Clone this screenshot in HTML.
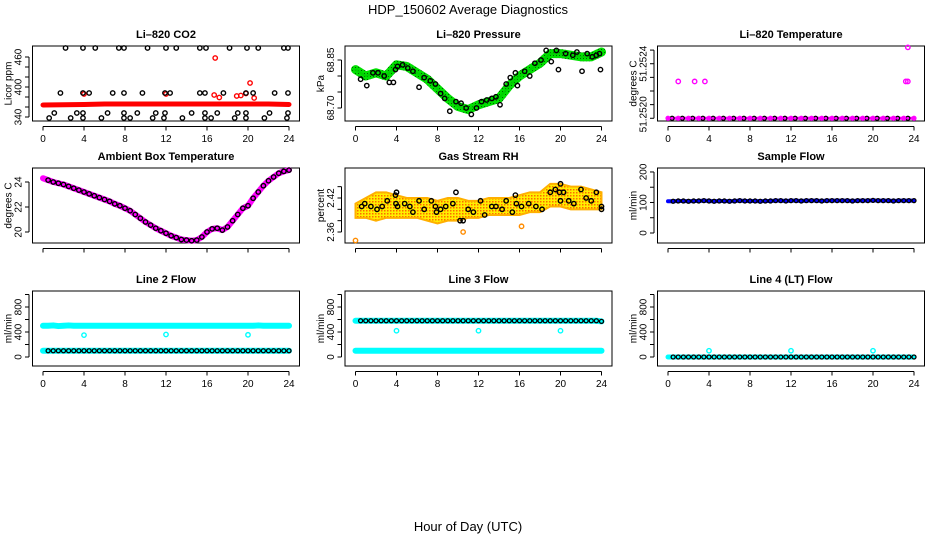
<!DOCTYPE html>
<html><head><meta charset="utf-8"><style>
html,body{margin:0;padding:0;background:#fff}
svg{display:block;font-family:"Liberation Sans",Helvetica,sans-serif}
</style></head><body>
<svg id="chart" width="936" height="540" viewBox="0 0 936 540" xmlns="http://www.w3.org/2000/svg">
<defs>
<pattern id="rhpat" width="3" height="3" patternUnits="userSpaceOnUse"><rect width="3" height="3" fill="#ffee00"/><rect x="0" y="0" width="1.5" height="1.5" fill="#ff6a00"/></pattern>
<pattern id="grpat" width="3" height="3" patternUnits="userSpaceOnUse"><rect width="3" height="3" fill="#00e000"/><rect x="1" y="1" width="1" height="1" fill="#006000"/></pattern>
</defs>
<text x="468" y="14" text-anchor="middle" font-size="13">HDP_150602  Average Diagnostics</text>
<text x="468" y="531" text-anchor="middle" font-size="13">Hour of Day (UTC)</text>
</svg>
<script>
// ---------- data ----------
const xTicks=[0,4,8,12,16,20,24];
// CO2
const co2RedH=[0,2,4,6,8,10,12,14,16,18,20,22,24];
const co2RedV=[364,364.5,365,366,366,366,366,366,366,366,366,366,365];
const co2RedOutH=[16.8,20.2,16.7,4.0,12.0,17.2,19.8,19.3,20.6,18.9];
const co2RedOutV=[458,408,384,386,386,379,387,383,378,382];
const co2BlackH=[2.2,3.9,5.1,7.4,7.9,10.2,12.0,13.0,15.3,15.9,18.2,19.9,21.0,23.5,23.9,
1.7,3.9,4.5,6.8,7.9,9.7,11.9,12.4,15.3,15.8,17.6,19.8,20.5,22.6,23.9,
1.1,3.3,3.9,6.3,7.9,9.2,11.0,11.9,14.5,15.8,17.0,19.0,19.8,22.1,23.9,
0.6,2.7,3.9,5.7,7.9,8.5,10.7,11.8,13.6,15.8,16.4,18.7,19.8,21.6,23.8];
const co2BlackV=[478,478,478,478,478,478,478,478,478,478,478,478,478,478,478,
388,388,388,388,388,388,388,388,388,388,388,388,388,388,388,
348,348,348,348,348,348,348,348,348,348,348,348,348,348,348,
338,338,338,338,338,338,338,338,338,338,338,338,338,338,338];
// Pressure
const presBandH=[0,1,2,3,4,5,6,7,8,9,10,11,12,13,14,15,16,17,18,19,20,21,22,23,24];
const presBandV=[68.82,68.80,68.81,68.80,68.835,68.83,68.81,68.79,68.76,68.73,68.705,68.695,68.71,68.72,68.73,68.77,68.80,68.82,68.84,68.87,68.87,68.865,68.86,68.86,68.875];
const presPtH=[0.5,1.1,1.7,2.2,2.8,3.3,3.7,3.9,4.1,4.6,5.1,5.6,6.2,6.7,7.3,7.8,8.3,8.7,9.2,9.8,10.3,10.8,11.3,11.8,12.3,12.8,13.3,13.7,14.1,14.7,15.1,15.6,15.8,16.5,17,17.5,18.1,18.6,19.1,19.6,19.8,20.5,21.2,21.6,22.1,22.6,23.1,23.5,23.8,23.9];
const presPtV=[68.79,68.77,68.81,68.81,68.80,68.78,68.78,68.82,68.83,68.835,68.825,68.815,68.765,68.795,68.785,68.775,68.745,68.73,68.69,68.72,68.715,68.70,68.68,68.70,68.72,68.725,68.73,68.735,68.71,68.775,68.795,68.81,68.77,68.815,68.80,68.84,68.85,68.88,68.845,68.88,68.82,68.87,68.865,68.875,68.815,68.87,68.86,68.865,68.87,68.82];
// Li-820 temperature
const ltH=[0,1,2,3,4,5,6,7,8,9,10,11,12,13,14,15,16,17,18,19,20,21,22,23,24];
const ltV=[51.2520,51.2520,51.2520,51.2520,51.2520,51.2520,51.2520,51.2520,51.2520,51.2520,51.2520,51.2520,51.2520,51.2520,51.2520,51.2520,51.2520,51.2520,51.2520,51.2520,51.2520,51.2520,51.2520,51.2520,51.2520];
const ltOutH=[1.0,2.6,3.6,23.2,23.4,23.4];
const ltOutV=[51.25227,51.25227,51.25227,51.25227,51.25227,51.25252];
// Ambient box temperature (every 0.5 h)
const ambStep=0.5;
const ambV=[24.3,24.15,24.0,23.9,23.8,23.65,23.5,23.35,23.2,23.05,22.9,22.75,22.6,22.45,22.25,22.1,21.9,21.7,21.4,21.1,20.8,20.55,20.3,20.1,19.9,19.7,19.55,19.4,19.35,19.3,19.35,19.6,20.0,20.25,20.3,20.15,20.4,20.9,21.4,21.9,22.1,22.7,23.2,23.7,24.1,24.4,24.7,24.85,24.95];
// Gas stream RH
const rhBandH=[0,1,2,3,4,5,6,7,8,9,10,11,12,13,14,15,16,17,18,19,20,21,22,23,24];
const rhUpper=[2.41,2.42,2.43,2.43,2.425,2.42,2.42,2.42,2.415,2.42,2.42,2.415,2.415,2.42,2.42,2.42,2.425,2.43,2.43,2.445,2.445,2.44,2.44,2.435,2.43];
const rhLower=[2.385,2.385,2.38,2.385,2.385,2.385,2.385,2.38,2.375,2.38,2.38,2.385,2.385,2.39,2.39,2.39,2.39,2.395,2.395,2.405,2.405,2.4,2.4,2.4,2.4];
const rhPtH=[0.6,0.9,1.5,2.1,2.6,3.1,3.9,4.0,3.95,4.1,4.8,5.3,5.6,6.2,6.7,7.4,7.8,7.9,8.3,8.8,9.5,9.8,10.2,10.5,11,11.5,12.2,12.6,13.3,13.7,14.3,14.7,15.3,15.6,15.7,16.2,16.9,17.6,18.2,19.0,19.5,20,19.9,20.0,20.3,20.8,21.3,22,22.5,23,23.5,24,24];
const rhPtV=[2.405,2.41,2.405,2.40,2.405,2.415,2.425,2.43,2.41,2.405,2.41,2.405,2.395,2.415,2.40,2.415,2.405,2.395,2.40,2.405,2.41,2.43,2.38,2.38,2.40,2.395,2.415,2.39,2.405,2.405,2.40,2.415,2.395,2.425,2.41,2.405,2.41,2.405,2.40,2.43,2.435,2.445,2.43,2.415,2.43,2.415,2.41,2.435,2.42,2.415,2.43,2.405,2.40];
const rhOutH=[0,10.5,16.2];
const rhOutV=[2.345,2.36,2.37];
// Flows (every 0.5 h)
const flowStep=0.5;
const sampleV=[104,104,105,105,104,105,105,106,105,104,105,105,104,105,106,105,105,105,104,105,105,106,106,105,106,106,105,106,106,106,105,106,106,106,106,106,105,106,106,106,107,106,106,106,105,106,106,106,106];
const l2Upper=[500,500,505,495,500,505,500,500,500,500,500,500,500,500,500,500,500,500,500,500,500,500,500,500,500,500,500,500,500,500,500,500,500,500,500,500,500,500,500,500,500,500,505,500,500,500,500,500,500];
const l2Lower=[100,100,100,100,100,100,100,100,100,100,100,100,100,100,100,100,100,100,100,100,100,100,100,100,100,100,100,100,100,100,100,100,100,100,100,100,100,100,100,100,100,100,100,100,100,100,100,100,100];
const l2OutH=[4,12,20];
const l2OutV=[350,360,355];
const l3Upper=[580,580,580,580,580,580,580,580,580,580,580,580,580,580,580,580,580,580,580,580,580,580,580,580,580,580,580,580,580,580,580,580,580,580,580,580,580,580,580,580,580,580,580,580,580,580,580,580,570];
const l3Lower=[100,100,100,100,100,100,100,100,100,100,100,100,100,100,100,100,100,100,100,100,100,100,100,100,100,100,100,100,100,100,100,100,100,100,100,100,100,100,100,100,100,100,100,100,100,100,100,100,100];
const l3OutH=[4,12,20];
const l3OutV=[420,420,420];
const l4V=[0,0,0,0,0,0,0,0,0,0,0,0,0,0,0,0,0,0,0,0,0,0,0,0,0,0,0,0,0,0,0,0,0,0,0,0,0,0,0,0,0,0,0,0,0,0,0,0,0];
const l4OutH=[4,12,20];
const l4OutV=[100,100,100];

// ---------- drawing ----------
const NS="http://www.w3.org/2000/svg";
const svg=document.getElementById('chart');
function mk(tag,attrs,parent){const e=document.createElementNS(NS,tag);for(const k in attrs)e.setAttribute(k,attrs[k]);(parent||svg).appendChild(e);return e;}

function makePanel(L,T,ymin,ymax,title,ylab,yticks,showXLabels,name){
  const H=75,W=267;
  const g=mk('g',{});
  
  
  const x=h=>L+10.5+h*10.25;
  const y=v=>T+(ymax-v)/(ymax-ymin)*H;
  const box=mk('rect',{x:L,y:T,width:W,height:H,fill:'none',stroke:'#000','stroke-width':1},g);
  
  
  const t=mk('text',{x:L+W/2,y:T-8,'text-anchor':'middle','font-size':11,'font-weight':'bold'},g);
  t.textContent=title;
  
  
  const ax=mk('g',{stroke:'#000','stroke-width':1},g);
  
  
  mk('line',{x1:x(0),x2:x(24),y1:T+H+5.5,y2:T+H+5.5},ax);
  xTicks.forEach(h=>{
    mk('line',{x1:x(h),x2:x(h),y1:T+H+5.5,y2:T+H+9.5},ax);
    if(showXLabels){
      const tl=mk('text',{x:x(h),y:T+H+21,'text-anchor':'middle','font-size':10,stroke:'none'},g);
      tl.textContent=h;
      
      
    }
  });
  const ay=mk('g',{stroke:'#000','stroke-width':1},g);
  
  
  const yA=L-3.5;
  mk('line',{x1:yA,x2:yA,y1:y(yticks[0]),y2:y(yticks[yticks.length-1])},ay);
  yticks.forEach(v=>mk('line',{x1:yA,x2:yA-4,y1:y(v),y2:y(v)},ay));
  const yl=mk('text',{x:0,y:0,'text-anchor':'middle','font-size':10,transform:`translate(${L-21},${T+H/2}) rotate(-90)`},g);
  yl.textContent=ylab;
  
  
  const data=mk('g',{},g);
  
  
  return {x,y,g:data,L};
}
function ylabels(P,items,name){
  items.forEach(([t,yy])=>{
    const tl=mk('text',{'text-anchor':'middle','font-size':10,transform:`translate(${P.L-11},${yy}) rotate(-90)`},svg);
    tl.textContent=t;
    
    
  });
}
function pts(P,hs,vs,color,name,r,sw){
  hs.forEach((h,i)=>{
    const c=mk('circle',{cx:P.x(h),cy:P.y(vs[i]),r:r||2.2,fill:'none',stroke:color,'stroke-width':sw||1.4},P.g);
    
    
  });
}
function band(P,hs,vs,color,w,name){
  const p=mk('polyline',{points:hs.map((h,i)=>P.x(h)+','+P.y(vs[i])).join(' '),fill:'none',stroke:color,'stroke-width':w,'stroke-linejoin':'round','stroke-linecap':'round'},P.g);
  
  
}
function stepH(arr,step){return arr.map((_,i)=>i*step);}

const X1=32.5,X2=345,X3=657.5,T1=46,T2=168,T3=291;

// Panel 1 CO2
let P=makePanel(X1,T1,332,482,'Li\u2013820 CO2','Licor ppm',[340,360,380,400,420,440,460],true,'co2');
ylabels(P,[340,400,460].map(v=>[String(v),P.y(v)]),'co2');
band(P,co2RedH,co2RedV,'#ff0000',5,'co2-red-series');
pts(P,co2RedOutH,co2RedOutV,'#ff0000','co2-red-point');
pts(P,co2BlackH,co2BlackV,'#000','co2-black-point');

// Panel 2 Pressure
P=makePanel(X2,T1,68.6594,68.8938,'Li\u2013820 Pressure','kPa',[68.70,68.75,68.80,68.85],true,'pressure');
ylabels(P,[['68.70',P.y(68.70)],['68.85',P.y(68.85)]],'pressure');
band(P,presBandH,presBandV,'url(#grpat)',9,'pressure-green-series');
band(P,presBandH,presBandV,'#00d000',2,'pressure-green-core');
pts(P,presPtH,presPtV,'#000','pressure-black-point');

// Panel 3 Li-820 temperature
P=makePanel(X3,T1,51.25198,51.25253,'Li\u2013820 Temperature','degrees C',[51.2520,51.2521,51.2522,51.2523,51.2524,51.2525],true,'li820-temp');
ylabels(P,[['51.2524',P.y(51.2524)],['51.2520',P.y(51.2520)-4]],'li820-temp');
band(P,ltH,ltV,'#ff00ff',3,'li820-temp-magenta-series');
pts(P,ltH.map(h=>h+0.4).filter(h=>h<=24),ltV,'#000','li820-temp-black-point',2,1.2);
pts(P,ltH,ltV,'#ff00ff','li820-temp-magenta-point',2,1.2);
pts(P,ltOutH,ltOutV,'#ff00ff','li820-temp-outlier');

// Panel 4 Ambient
P=makePanel(X1,T2,19.12,25.12,'Ambient Box Temperature','degrees C',[20,22,24],false,'ambient');
ylabels(P,[20,22,24].map(v=>[String(v),P.y(v)]),'ambient');
band(P,stepH(ambV,ambStep),ambV,'#ff00ff',6,'ambient-magenta-series');
pts(P,stepH(ambV,ambStep).slice(1),ambV.slice(1),'#000','ambient-black-point');

// Panel 5 RH
P=makePanel(X2,T2,2.3406,2.4729,'Gas Stream RH','percent',[2.36,2.38,2.40,2.42,2.44],false,'rh');
ylabels(P,[['2.36',P.y(2.36)],['2.42',P.y(2.42)]],'rh');
{
  const up=rhBandH.map((h,i)=>P.x(h)+','+P.y(rhUpper[i]));
  const lo=rhBandH.map((h,i)=>P.x(h)+','+P.y(rhLower[i])).reverse();
  const poly=mk('polygon',{points:up.concat(lo).join(' '),fill:'url(#rhpat)',stroke:'#ffb000','stroke-width':2},P.g);
  
  
}
pts(P,rhOutH,rhOutV,'#ff8c00','rh-orange-outlier');
pts(P,rhPtH,rhPtV,'#000','rh-black-point');

// Panel 6 Sample flow
P=makePanel(X3,T2,-32.8,213,'Sample Flow','ml/min',[0,50,100,150,200],false,'sample-flow');
ylabels(P,[0,100,200].map(v=>[String(v),P.y(v)]),'sample-flow');
band(P,stepH(sampleV,flowStep),sampleV,'#0000ff',4,'sample-flow-blue-series');
pts(P,stepH(sampleV,flowStep).slice(1),sampleV.slice(1),'#000','sample-flow-black-point',2,1.3);

// Row 3 flows
function flowPanel(L,title,name){
  const Q=makePanel(L,T3,-144,1056,title,'ml/min',[0,200,400,600,800,1000],true,name);
  ylabels(Q,[0,400,800].map(v=>[String(v),Q.y(v)]),name);
  return Q;
}
P=flowPanel(X1,'Line 2 Flow','line2-flow');
band(P,stepH(l2Upper,flowStep),l2Upper,'#00ffff',6,'line2-cyan-upper');
band(P,stepH(l2Lower,flowStep),l2Lower,'#00ffff',6,'line2-cyan-lower');
pts(P,stepH(l2Lower,flowStep).slice(1),l2Lower.slice(1),'#000','line2-black-point',2,1.3);
pts(P,l2OutH,l2OutV,'#00ffff','line2-outlier');

P=flowPanel(X2,'Line 3 Flow','line3-flow');
band(P,stepH(l3Upper,flowStep),l3Upper,'#00ffff',6,'line3-cyan-upper');
band(P,stepH(l3Lower,flowStep),l3Lower,'#00ffff',6,'line3-cyan-lower');
pts(P,stepH(l3Upper,flowStep).slice(1),l3Upper.slice(1),'#000','line3-black-point',2,1.3);
pts(P,l3OutH,l3OutV,'#00ffff','line3-outlier');

P=flowPanel(X3,'Line 4 (LT) Flow','line4-flow');
band(P,stepH(l4V,flowStep),l4V,'#00ffff',5,'line4-cyan-series');
pts(P,stepH(l4V,flowStep).slice(1),l4V.slice(1),'#000','line4-black-point',2,1.3);
pts(P,l4OutH,l4OutV,'#00ffff','line4-outlier');
</script>
</body></html>
